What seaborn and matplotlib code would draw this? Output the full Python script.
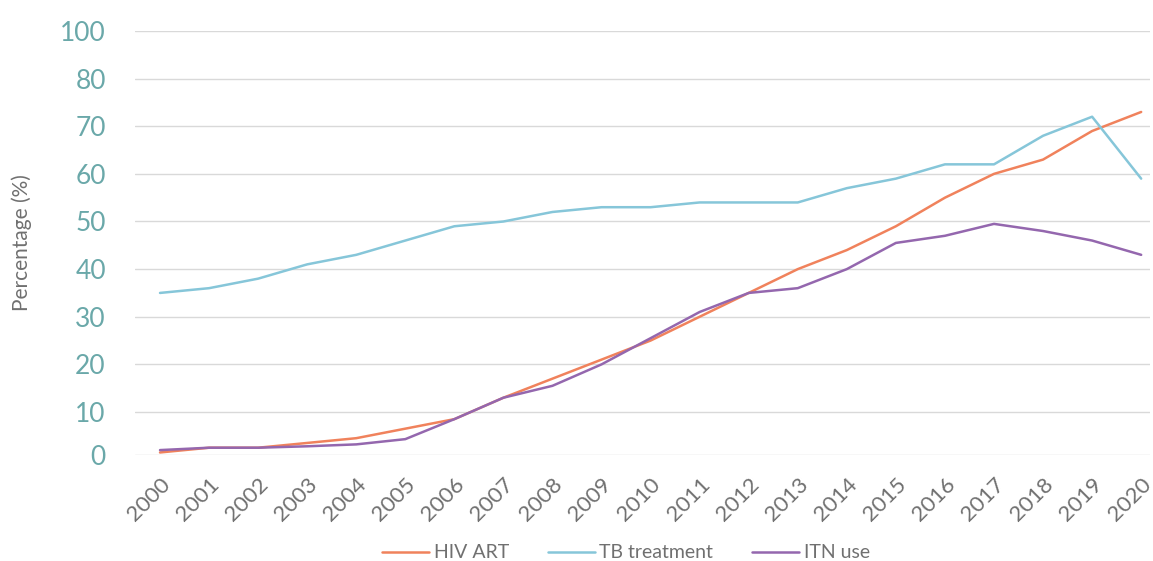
import matplotlib
matplotlib.use("Agg")
import matplotlib.pyplot as plt
import seaborn as sns
import pandas as pd

years = list(range(2000, 2021))
hiv_art = [1.5, 2.5, 2.5, 3.5, 4.5, 6.5, 8.5, 13, 17, 21, 25, 30, 35, 40, 44, 49, 55, 60, 63, 69, 73]
tb_treatment = [35, 36, 38, 41, 43, 46, 49, 50, 52, 53, 53, 54, 54, 54, 57, 59, 62, 62, 68, 72, 59]
itn_use = [2, 2.5, 2.5, 2.8, 3.2, 4.3, 8.5, 13, 15.5, 20, 25.5, 31, 35, 36, 40, 45.5, 47, 49.5, 48, 46, 43]

series_names = ["HIV ART", "TB treatment", "ITN use"]
series_colors = ["#F0825C", "#86C6D9", "#9467AE"]
y_tick_labels = ["0", "10", "20", "30", "40", "50", "60", "70", "80", "100"]

df = pd.DataFrame({
    "Year": years * 3,
    "Value": hiv_art + tb_treatment + itn_use,
    "Series": [s for s in series_names for _ in years],
})

sns.set_style("white")
plt.rcParams["font.family"] = ["Lato", "DejaVu Sans"]

fig = plt.figure(figsize=(11.53, 5.61), dpi=100)
ax = fig.add_axes([135 / 1153, 1 - 455 / 561, 1015 / 1153, 424 / 561])

sns.lineplot(data=df, x="Year", y="Value", hue="Series", hue_order=series_names,
             palette=series_colors, linewidth=1.8, ax=ax, legend=True)

y_bottom = 0.97
ax.set_ylim(y_bottom, 90)
ax.set_xlim(1999.49, 2020.18)
ax.set_yticks([y_bottom] + list(range(10, 91, 10)))
ax.set_yticklabels(y_tick_labels)
ax.set_xticks(years)
ax.set_xticklabels([str(y) for y in years], rotation=45, ha="right",
                   rotation_mode="anchor", color="#707070", fontsize=16)
ax.tick_params(axis="y", labelsize=19, labelcolor="#6AA8A9", length=0, pad=21)
ax.tick_params(axis="x", length=0, pad=14)

ax.grid(axis="y", color="#D9D9D9", linewidth=1.0)
ax.set_axisbelow(True)
for side in ["top", "right", "left", "bottom"]:
    ax.spines[side].set_visible(False)

ax.set_xlabel("")
ax.set_ylabel("Percentage (%)", color="#707070", fontsize=15)
ax.yaxis.set_label_coords(-103 / 1015, 0.5)

handles, labels = ax.get_legend_handles_labels()
ax.legend(handles, labels, loc="center",
          bbox_to_anchor=((626 - 135) / 1015, 1 - (553 - 31) / 424),
          ncol=3, frameon=False, fontsize=14, labelcolor="#707070",
          handlelength=2.4, handletextpad=0.25, columnspacing=2.0)

fig.savefig("out.png", dpi=100)
